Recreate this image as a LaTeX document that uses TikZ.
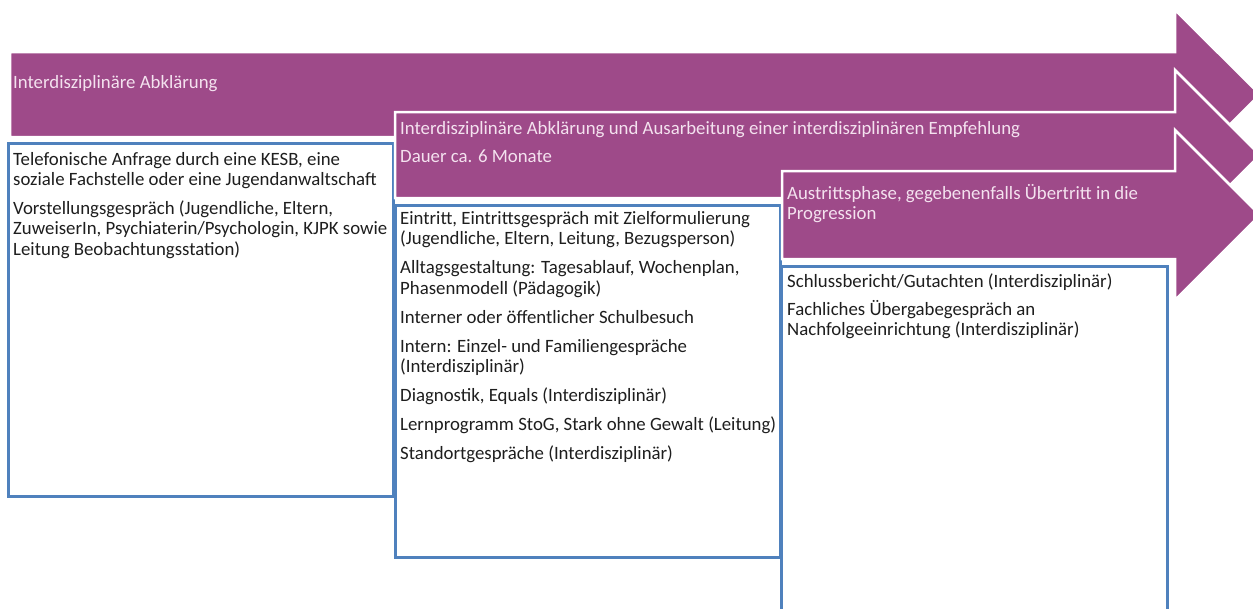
\documentclass[tikz,border=0pt]{standalone}
\usepackage{fontspec}
\setmainfont{Carlito}
\definecolor{arrowpurple}{RGB}{158,74,137}
\definecolor{boxblue}{RGB}{79,129,189}
\definecolor{lighttext}{RGB}{244,226,239}
\definecolor{darktext}{RGB}{30,30,30}
\begin{document}
\begin{tikzpicture}[x=1pt,y=-1pt,
  phase/.style={fill=arrowpurple, draw=white, line width=2.5pt, line join=miter},
  stagebox/.style={draw=boxblue, line width=3pt, fill=white},
  ln/.style={anchor=base west, inner sep=0pt, font=\fontsize{18.8}{20}\selectfont, text=darktext},
  lnw/.style={ln, text=lighttext}]
\useasboundingbox (0,0) rectangle (1253,608);
\clip (0,0) rectangle (1253,608);
% phase 1
\draw[phase] (10,52) -- (1175,52) -- (1175,10) -- (1260,94.5) -- (1175,179) -- (1175,137) -- (10,137) -- cycle;
\node[lnw] (a1) at (13,88) {Interdisziplinäre Abklärung};
\draw[stagebox] (8,143) rectangle (393,496);
\node[ln] (b1a) at (13,165) {Telefonische Anfrage durch eine KESB, eine};
\node[ln] (b1b) at (13,185.5) {soziale Fachstelle oder eine Jugendanwaltschaft};
\node[ln] (b1c) at (13,214) {Vorstellungsgespräch (Jugendliche, Eltern,};
\node[ln] (b1d) at (13,234.5) {ZuweiserIn, Psychiaterin/Psychologin, KJPK sowie};
\node[ln] (b1e) at (13,255) {Leitung Beobachtungsstation)};
% phase 2
\draw[phase] (395,112) -- (1175,112) -- (1175,70) -- (1260,155) -- (1175,240) -- (1175,198) -- (395,198) -- cycle;
\node[lnw] (a2a) at (400,134) {Interdisziplinäre Abklärung und Ausarbeitung einer interdisziplinären Empfehlung};
\node[lnw] (a2b) at (400,162) {Dauer ca. 6 Monate};
\draw[stagebox] (395,205) rectangle (780,557);
\node[ln] (b2a) at (400,224) {Eintritt, Eintrittsgespräch mit Zielformulierung};
\node[ln] (b2b) at (400,244.5) {(Jugendliche, Eltern, Leitung, Bezugsperson)};
\node[ln] (b2c) at (400,273.5) {Alltagsgestaltung: Tagesablauf, Wochenplan,};
\node[ln] (b2d) at (400,294) {Phasenmodell (Pädagogik)};
\node[ln] (b2e) at (400,323) {Interner oder öffentlicher Schulbesuch};
\node[ln] (b2f) at (400,352) {Intern: Einzel- und Familiengespräche};
\node[ln] (b2g) at (400,372.5) {(Interdisziplinär)};
\node[ln] (b2h) at (400,401.5) {Diagnostik, Equals (Interdisziplinär)};
\node[ln] (b2i) at (400,430.5) {Lernprogramm StoG, Stark ohne Gewalt (Leitung)};
\node[ln] (b2j) at (400,459.5) {Standortgespräche (Interdisziplinär)};
% phase 3
\draw[phase] (782,171) -- (1175,171) -- (1175,130) -- (1260,215) -- (1175,300) -- (1175,259) -- (782,259) -- cycle;
\node[lnw] (a3a) at (787,199) {Austrittsphase, gegebenenfalls Übertritt in die};
\node[lnw] (a3b) at (787,219.5) {Progression};
\draw[stagebox] (781,266) rectangle (1167,640);
\node[ln] (b3a) at (787,287) {Schlussbericht/Gutachten (Interdisziplinär)};
\node[ln] (b3b) at (787,315) {Fachliches Übergabegespräch an};
\node[ln] (b3c) at (787,335.5) {Nachfolgeeinrichtung (Interdisziplinär)};
\end{tikzpicture}
\end{document}
